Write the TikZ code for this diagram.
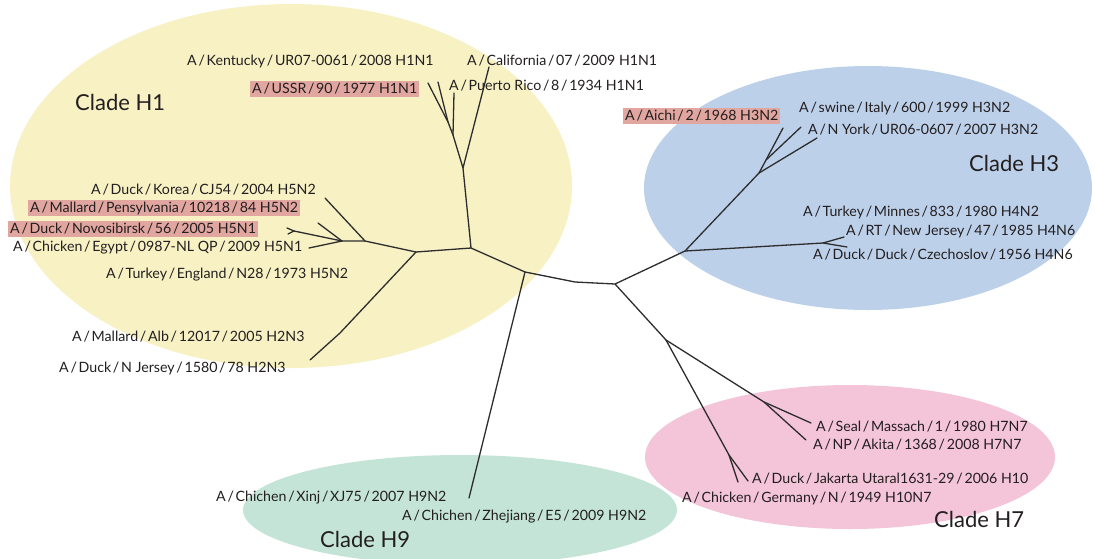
\documentclass[tikz,border=0pt]{standalone}
\usepackage{fontspec}
\setmainfont{Lato}
\newcommand\sls{\kern0.12em/\kern0.12em}
\definecolor{yel}{RGB}{247,241,196}
\definecolor{blu}{RGB}{189,208,234}
\definecolor{pnk}{RGB}{244,196,216}
\definecolor{grn}{RGB}{196,228,215}
\definecolor{hlc}{RGB}{226,166,160}
\definecolor{txt}{RGB}{35,31,32}
\definecolor{brc}{RGB}{45,45,45}
\begin{document}
\begin{tikzpicture}[x=1pt,y=-1pt,
  lbl/.style={anchor=west, inner xsep=1pt, inner ysep=2pt, font=\fontsize{14.2}{16}\selectfont, text=txt},
  hl/.style={lbl, fill=hlc, inner xsep=2pt},
  clade/.style={anchor=west, inner sep=0pt, font=\fontsize{22}{26}\selectfont, text=txt},
  br/.style={draw=brc, line width=1.3pt, line join=round, line cap=round}]
\useasboundingbox (0,0) rectangle (1095,558);
\clip (0,0) rectangle (1095,558);
\fill[white] (0,0) rectangle (1095,558);
% clade ellipses
\fill[yel] (291,186) ellipse [x radius=281pt, y radius=182pt];
\fill[blu] (868,188) ellipse [x radius=224pt, y radius=122pt];
\fill[pnk] (850,457) ellipse [x radius=205pt, y radius=72pt];
\fill[grn] (460,510) ellipse [x radius=217pt, y radius=55pt];
% clade labels
\node[clade] (c1) at (75,102) {Clade H1};
\node[clade] (c3) at (969,163) {Clade H3};
\node[clade] (c7) at (934,519) {Clade H7};
\node[clade] (c9) at (320,539) {Clade H9};
% tree nodes
\coordinate (n1) at (471,248);
\coordinate (n2) at (525,272);
\coordinate (m1) at (575,282);
\coordinate (n3) at (615,284);
\coordinate (n4) at (685,251);
\coordinate (n5) at (416,252);
\coordinate (n6) at (463,168);
\coordinate (n7) at (453,135);
\coordinate (n8) at (448,122);
\coordinate (tUSSR) at (428,83);
\coordinate (tKent) at (438,82);
\coordinate (tPR) at (454,93);
\coordinate (tCal) at (489,67);
\coordinate (n9) at (365,241);
\coordinate (tKor) at (325,198);
\coordinate (n10) at (342,241);
\coordinate (tMal) at (318,223);
\coordinate (nNov) at (294,231);
\coordinate (tNovA) at (287,228);
\coordinate (tNovB) at (288,234);
\coordinate (tEgy) at (309,248);
\coordinate (tAlb) at (340,333);
\coordinate (tNJ) at (310,360);
\coordinate (n11) at (759,173);
\coordinate (n11b) at (766,160);
\coordinate (tAichi) at (783,128);
\coordinate (tSwine) at (801,127);
\coordinate (tNY) at (817,138);
\coordinate (n12) at (823,243);
\coordinate (tMin) at (844,237);
\coordinate (tRT) at (847,247);
\coordinate (tH9) at (469,498);
\coordinate (n13) at (666,340);
\coordinate (n14) at (764,402);
\coordinate (tSeal) at (811,423);
\coordinate (tNP) at (806,440);
\coordinate (n15) at (729,455);
\coordinate (tDJ) at (738,482);
\coordinate (tCG) at (748,481);
% branches
\draw[br] (n5) -- (n1) -- (n2) -- (m1) -- (n3) -- (n4) -- (n11);
\draw[br] (n1) -- (n6) -- (n7) -- (n8) -- (tUSSR);
\draw[br] (n8) -- (tKent);
\draw[br] (n7) -- (tPR);
\draw[br] (n6) -- (tCal);
\draw[br] (n5) -- (n9) -- (tKor);
\draw[br] (n9) -- (n10) -- (tMal);
\draw[br] (n10) -- (nNov) -- (tNovA);
\draw[br] (nNov) -- (tNovB);
\draw[br] (n10) -- (tEgy);
\draw[br] (n5) -- (tAlb) -- (tNJ);
\draw[br] (n11) -- (n11b) -- (tAichi);
\draw[br] (n11b) -- (tSwine);
\draw[br] (n11) -- (tNY);
\draw[br] (n4) -- (n12) -- (tMin);
\draw[br] (n12) -- (tRT);
\draw[br] (n2) -- (tH9);
\draw[br] (n3) -- (n13) -- (n14) -- (tSeal);
\draw[br] (n14) -- (tNP);
\draw[br] (n13) -- (n15) -- (tDJ);
\draw[br] (n15) -- (tCG);
% labels H1
\node[lbl] (lKent) at (186,61) {A\sls Kentucky\sls UR07-0061\sls 2008 H1N1};
\node[lbl] (lCal) at (466,61) {A\sls California\sls 07\sls 2009 H1N1};
\node[hl] (lUSSR) at (250,89) {A\sls USSR\sls 90\sls 1977 H1N1};
\node[lbl] (lPR) at (448,86) {A\sls Puerto Rico\sls 8\sls 1934 H1N1};
\node[lbl] (lKor) at (90,190) {A\sls Duck\sls Korea\sls CJ54\sls 2004 H5N2};
\node[hl] (lMal) at (28,208) {A\sls Mallard\sls Pensylvania\sls 10218\sls 84 H5N2\hspace{14pt}};
\node[hl] (lNov) at (8,229) {A\sls Duck\sls Novosibirsk\sls 56\sls 2005 H5N1};
\node[lbl] (lEgy) at (12,248) {A\sls Chicken\sls Egypt\sls 0987-NL QP\sls 2009 H5N1};
\node[lbl] (lTur) at (105,275) {A\sls Turkey\sls England\sls N28\sls 1973 H5N2};
\node[lbl] (lAlb) at (71,337) {A\sls Mallard\sls Alb\sls 12017\sls 2005 H2N3};
\node[lbl] (lNJ) at (58,368) {A\sls Duck\sls N Jersey\sls 1580\sls 78 H2N3};
% labels H3
\node[hl] (lAichi) at (623,116) {A\sls Aichi\sls 2\sls 1968 H3N2};
\node[lbl] (lSwine) at (798,108) {A\sls swine\sls Italy\sls 600\sls 1999 H3N2};
\node[lbl] (lNY) at (807,130) {A\sls N York\sls UR06-0607\sls 2007 H3N2};
\node[lbl] (lMin) at (802,212) {A\sls Turkey\sls Minnes\sls 833\sls 1980 H4N2};
\node[lbl] (lRT) at (845,231) {A\sls RT\sls New Jersey\sls 47\sls 1985 H4N6};
\node[lbl] (lCz) at (812,255) {A\sls Duck\sls Duck\sls Czechoslov\sls 1956 H4N6};
% labels H7
\node[lbl] (lSeal) at (815,427) {A\sls Seal\sls Massach\sls 1\sls 1980 H7N7};
\node[lbl] (lNP) at (812,445) {A\sls NP\sls Akita\sls 1368\sls 2008 H7N7};
\node[lbl] (lDJ) at (751,479) {A\sls Duck\sls Jakarta Utaral1631-29\sls 2006 H10};
\node[lbl] (lCG) at (681,498) {A\sls Chicken\sls Germany\sls N\sls 1949 H10N7};
% labels H9
\node[lbl] (lXinj) at (215,498) {A\sls Chichen\sls Xinj\sls XJ75\sls 2007 H9N2};
\node[lbl] (lZhe) at (401,517) {A\sls Chichen\sls Zhejiang\sls E5\sls 2009 H9N2};
\end{tikzpicture}
\end{document}
